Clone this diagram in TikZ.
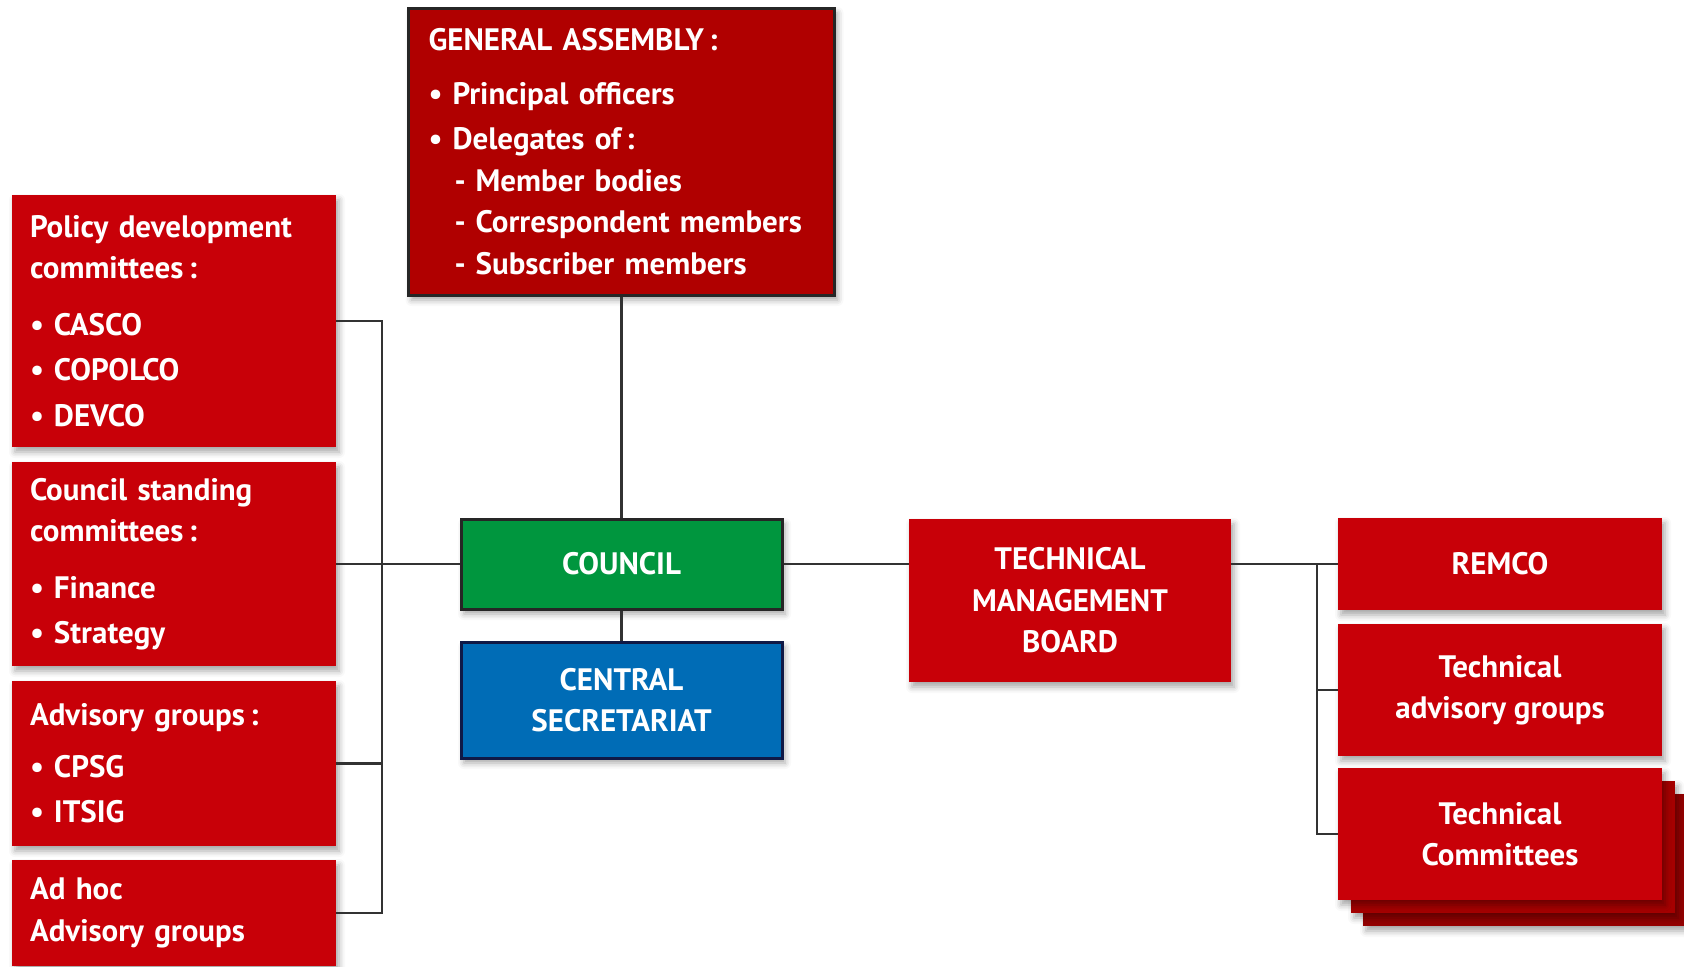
\documentclass[tikz,border=0pt]{standalone}
\usepackage{fontspec}
\setmainfont{PT Sans}
\usetikzlibrary{shadows.blur}

\definecolor{isored}{RGB}{200,0,8}
\definecolor{garred}{RGB}{176,0,0}
\definecolor{tcdark}{RGB}{165,0,0}
\definecolor{tcdarker}{RGB}{148,0,0}
\definecolor{councilgreen}{RGB}{0,150,62}
\definecolor{secblue}{RGB}{0,108,182}
\definecolor{secnavy}{RGB}{15,25,70}
\definecolor{linkgray}{RGB}{50,50,50}

\newcommand{\boxfont}{\fontsize{15.5pt}{20.75pt}\selectfont\bfseries}
\newcommand{\itm}{\textbullet\hspace{5pt}}
\newcommand{\dashitem}{\hspace*{13pt}-\hspace{5pt}}

\tikzset{
  orgbox/.style={fill=isored, text=white, font=\boxfont, inner sep=0pt,
    blur shadow={shadow xshift=1.5pt, shadow yshift=-2.5pt, shadow blur radius=3pt, shadow opacity=35}},
  listbox/.style={orgbox, text width=144pt, inner xsep=9pt, align=left, minimum height=#1},
  midbox/.style 2 args={orgbox, align=center, minimum width=#1, minimum height=#2},
  link/.style={draw=linkgray, line width=1.3pt},
}

\begin{document}
\begin{tikzpicture}[x=0.5pt, y=-0.5pt]
	\useasboundingbox (0,0) rectangle (1684,966);
	\clip (0,0) rectangle (1684,966);

	% left column
	\node[listbox=126pt] (policy) at (174,321) {Policy development\\committees\,:\\[7.5pt]\itm CASCO\\[2pt]\itm COPOLCO\\[2pt]\itm DEVCO};
	\node[listbox=102pt] (standing) at (174,564) {Council standing\\committees\,:\\[7.5pt]\itm Finance\\[2pt]\itm Strategy};
	\node[listbox=82.5pt] (advisory) at (174,763.5) {Advisory groups\,:\\[5pt]\itm CPSG\\[2pt]\itm ITSIG};
	\node[listbox=53pt] (adhoc) at (174,913) {Ad hoc\\Advisory groups};

	% centre
	\node[orgbox, fill=garred, draw=black!85, line width=1.5pt, text width=193pt, inner xsep=10pt, align=left, minimum height=143.5pt] (ga) at (621.5,151.5)
		{GENERAL ASSEMBLY\,:\\[6pt]\itm Principal officers\\[2pt]\itm Delegates of\,:\\\dashitem Member bodies\\\dashitem Correspondent members\\\dashitem Subscriber members};
	\node[midbox={160.5pt}{45pt}, fill=councilgreen, draw=black!85, line width=1.5pt] (council) at (621.5,564) {COUNCIL};
	\node[midbox={160.5pt}{58pt}, fill=secblue, draw=secnavy, line width=1.5pt] (cs) at (621.5,700) {CENTRAL\\SECRETARIAT};
	\node[midbox={161pt}{81.5pt}] (tmb) at (1070,600.5) {TECHNICAL\\MANAGEMENT\\BOARD};

	% right column
	\node[midbox={162pt}{46pt}] (remco) at (1500,564) {REMCO};
	\node[midbox={162pt}{66pt}] (tag) at (1500,690) {Technical\\advisory groups};
	\node[midbox={162pt}{66pt}, fill=tcdarker] (tc3) at (1525,860) {};
	\node[midbox={162pt}{66pt}, fill=tcdark] (tc2) at (1513,847) {};
	\node[midbox={162pt}{66pt}] (tc) at (1500,834) {Technical\\Committees};

	% connectors
	\coordinate (lbus) at (382,0);
	\coordinate (rbus) at (1317,0);
	\draw[link] (ga.south) -- (council.north);
	\draw[link] (council.south) -- (cs.north);
	\draw[link] (council.east) -- (council.east -| tmb.west);
	\draw[link] (standing.east) -- (council.west);
	\draw[link] (policy.east) -| (lbus |- adhoc.east) -- (adhoc.east);
	\draw[link] (advisory.east) -- (advisory.east -| lbus);
	\draw[link] (tmb.east |- remco.west) -- (remco.west);
	\draw[link] (rbus |- remco.west) |- (tc.west);
	\draw[link] (rbus |- tag.west) -- (tag.west);
\end{tikzpicture}
\end{document}
